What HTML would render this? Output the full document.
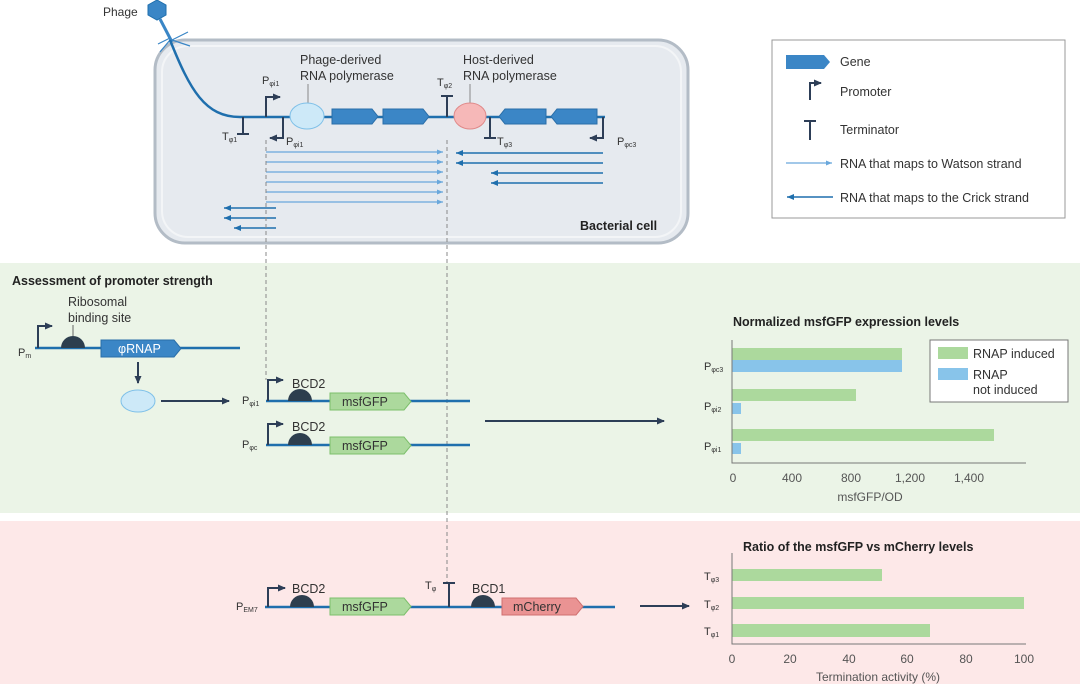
<!DOCTYPE html>
<html><head><meta charset="utf-8"><style>
html,body{margin:0;padding:0;background:#fff}
svg{display:block;font-family:"Liberation Sans",sans-serif}
</style></head><body>
<svg width="1080" height="684" viewBox="0 0 1080 684" xmlns="http://www.w3.org/2000/svg">
<defs>
<marker id="aw" markerUnits="userSpaceOnUse" markerWidth="7" markerHeight="6" refX="6" refY="3" orient="auto"><path d="M0,0.5 L6,3 L0,5.5z" fill="#6aa8dc"/></marker>
<marker id="ac" markerUnits="userSpaceOnUse" markerWidth="8" markerHeight="7" refX="7" refY="3.5" orient="auto"><path d="M0,0.5 L7,3.5 L0,6.5z" fill="#1f6fad"/></marker>
<marker id="ad" markerUnits="userSpaceOnUse" markerWidth="9" markerHeight="8" refX="7" refY="4" orient="auto"><path d="M0,0.5 L8,4 L0,7.5z" fill="#2d3e57"/></marker>
</defs>
<rect x="0" y="263" width="1080" height="250" fill="#ebf4e7"/>
<rect x="0" y="521" width="1080" height="163" fill="#fde8e8"/>
<rect x="155" y="40" width="533" height="203" rx="30" fill="#e6eaef" stroke="#b3bcc6" stroke-width="3"/>
<rect x="162" y="46" width="519" height="191" rx="26" fill="none" stroke="#f3f5f7" stroke-width="2"/>
<text x="103" y="16" font-size="12" fill="#333">Phage</text>
<polygon points="157,0 166,5 166,15 157,20 148,15 148,5" fill="#3a86c6" stroke="#1f6fad"/>
<line x1="160" y1="19" x2="172" y2="42" stroke="#3a86c6" stroke-width="3"/>
<path d="M170,38 l-12,6 M172,40 l16,-8 M170,40 l-10,12 M172,40 l18,6" stroke="#3a86c6" stroke-width="1.2" fill="none"/>
<path d="M170,40 C190,90 205,117 240,117 L605,117" stroke="#1f6fad" stroke-width="2.5" fill="none"/>
<g stroke="#2d3e57" stroke-width="2" fill="none">
<path d="M243,117 V134 M237,134 H249"/>
<path d="M266,117 V97 H280" marker-end="url(#ad)"/>
<path d="M283,117 V138 H270" marker-end="url(#ad)"/>
<path d="M447,117 V96 M441,96 H453"/>
<path d="M490,117 V138 M484,138 H496"/>
<path d="M603,117 V138 H590" marker-end="url(#ad)"/>
</g>
<g font-size="11" fill="#333">
<text x="222" y="140">T<tspan font-size="7" dy="2">φ1</tspan></text>
<text x="262" y="84">P<tspan font-size="7" dy="2">φi1</tspan></text>
<text x="286" y="145">P<tspan font-size="7" dy="2">φi1</tspan></text>
<text x="437" y="86">T<tspan font-size="7" dy="2">φ2</tspan></text>
<text x="497" y="145">T<tspan font-size="7" dy="2">φ3</tspan></text>
<text x="617" y="145">P<tspan font-size="7" dy="2">φc3</tspan></text>
</g>
<g font-size="12.5" fill="#333">
<text x="300" y="64">Phage-derived</text><text x="300" y="80">RNA polymerase</text>
<text x="463" y="64">Host-derived</text><text x="463" y="80">RNA polymerase</text>
</g>
<line x1="308" y1="84" x2="308" y2="103" stroke="#888"/>
<line x1="470" y1="84" x2="470" y2="103" stroke="#888"/>
<ellipse cx="307" cy="116" rx="17" ry="13" fill="#cde9f8" stroke="#7fc0e8"/>
<ellipse cx="470" cy="116" rx="16" ry="13" fill="#f6b8b8" stroke="#e08a8a"/>
<g fill="#3b86c6" stroke="#2a6ea8">
<path d="M332,109 H372 L378,116.5 L372,124 H332z"/>
<path d="M383,109 H423 L429,116.5 L423,124 H383z"/>
<path d="M546,109 H505 L499,116.5 L505,124 H546z"/>
<path d="M597,109 H557 L551,116.5 L557,124 H597z"/>
</g>
<g stroke="#6aa8dc" stroke-width="1.3">
<line x1="266" y1="152" x2="443" y2="152" marker-end="url(#aw)"/>
<line x1="266" y1="162" x2="443" y2="162" marker-end="url(#aw)"/>
<line x1="266" y1="172" x2="443" y2="172" marker-end="url(#aw)"/>
<line x1="266" y1="182" x2="443" y2="182" marker-end="url(#aw)"/>
<line x1="266" y1="192" x2="443" y2="192" marker-end="url(#aw)"/>
<line x1="266" y1="202" x2="443" y2="202" marker-end="url(#aw)"/>
</g>
<g stroke="#1f6fad" stroke-width="1.6">
<line x1="603" y1="153" x2="456" y2="153" marker-end="url(#ac)"/>
<line x1="603" y1="163" x2="456" y2="163" marker-end="url(#ac)"/>
<line x1="603" y1="173" x2="491" y2="173" marker-end="url(#ac)"/>
<line x1="603" y1="183" x2="491" y2="183" marker-end="url(#ac)"/>
<line x1="276" y1="208" x2="224" y2="208" marker-end="url(#ac)"/>
<line x1="276" y1="218" x2="224" y2="218" marker-end="url(#ac)"/>
<line x1="276" y1="228" x2="234" y2="228" marker-end="url(#ac)"/>
</g>
<text x="580" y="230" font-size="12.5" font-weight="bold" fill="#222">Bacterial cell</text>
<line x1="266" y1="140" x2="266" y2="380" stroke="#888" stroke-dasharray="4,3"/>
<line x1="447" y1="140" x2="447" y2="583" stroke="#888" stroke-dasharray="4,3"/>
<rect x="772" y="40" width="293" height="178" fill="#fff" stroke="#999"/>
<path d="M786,55 H824 L830,62 L824,69 H786z" fill="#3b86c6"/>
<path d="M810,100 V83 H821" stroke="#2d3e57" stroke-width="2" fill="none" marker-end="url(#ad)"/>
<path d="M810,140 V121 M804,121 H816" stroke="#2d3e57" stroke-width="2" fill="none"/>
<line x1="786" y1="163" x2="832" y2="163" stroke="#6aa8dc" stroke-width="1.3" marker-end="url(#aw)"/>
<line x1="833" y1="197" x2="787" y2="197" stroke="#1f6fad" stroke-width="1.6" marker-end="url(#ac)"/>
<g font-size="12.5" fill="#333">
<text x="840" y="66">Gene</text><text x="840" y="96">Promoter</text><text x="840" y="134">Terminator</text>
<text x="840" y="168">RNA that maps to Watson strand</text><text x="840" y="202">RNA that maps to the Crick strand</text>
</g>
<text x="12" y="285" font-size="12.5" font-weight="bold" fill="#222">Assessment of promoter strength</text>
<g stroke="#1f6fad" stroke-width="2.5">
<line x1="35" y1="348" x2="240" y2="348"/>
<line x1="266" y1="401" x2="470" y2="401"/>
<line x1="266" y1="445" x2="470" y2="445"/>
<line x1="265" y1="607" x2="615" y2="607"/>
</g>
<g stroke="#2d3e57" stroke-width="2" fill="none">
<path d="M38,348 V326 H52" marker-end="url(#ad)"/>
<path d="M268,401 V380 H283" marker-end="url(#ad)"/>
<path d="M268,445 V424 H283" marker-end="url(#ad)"/>
<path d="M268,607 V588 H285" marker-end="url(#ad)"/>
<path d="M138,362 V383" marker-end="url(#ad)"/>
<path d="M161,401 H229" marker-end="url(#ad)"/>
<path d="M485,421 H664" marker-end="url(#ad)"/>
<path d="M640,606 H689" marker-end="url(#ad)"/>
<path d="M449,607 V583 M443,583 H455"/>
</g>
<line x1="73" y1="325" x2="73" y2="336" stroke="#666"/>
<g fill="#2d3e4e">
<path d="M61,348 A12,12 0 0 1 85,348z"/>
<path d="M288,401 A12,12 0 0 1 312,401z"/>
<path d="M288,445 A12,12 0 0 1 312,445z"/>
<path d="M290,607 A12,12 0 0 1 314,607z"/>
<path d="M471,607 A12,12 0 0 1 495,607z"/>
</g>
<path d="M101,340 H174 L181,348.5 L174,357 H101z" fill="#3b86c6" stroke="#2a6ea8"/>
<text x="118" y="353" font-size="12.5" fill="#fff">φRNAP</text>
<ellipse cx="138" cy="401" rx="17" ry="11" fill="#cde9f8" stroke="#7fc0e8"/>
<g fill="#acd99d" stroke="#7cbf6b">
<path d="M330,393 H404 L411,401.5 L404,410 H330z"/>
<path d="M330,437 H404 L411,445.5 L404,454 H330z"/>
<path d="M330,598 H404 L411,606.5 L404,615 H330z"/>
</g>
<path d="M502,598 H576 L583,606.5 L576,615 H502z" fill="#ea9393" stroke="#d06f6f"/>
<g font-size="12.5" fill="#333">
<text x="68" y="306">Ribosomal</text><text x="68" y="322">binding site</text>
<text x="292" y="388">BCD2</text><text x="292" y="431">BCD2</text>
<text x="292" y="593">BCD2</text><text x="472" y="593">BCD1</text>
<text x="342" y="406">msfGFP</text><text x="342" y="450">msfGFP</text>
<text x="342" y="611">msfGFP</text><text x="513" y="611">mCherry</text>
</g>
<g font-size="11" fill="#333">
<text x="18" y="356">P<tspan font-size="7" dy="2">m</tspan></text>
<text x="242" y="404">P<tspan font-size="7" dy="2">φi1</tspan></text>
<text x="242" y="448">P<tspan font-size="7" dy="2">φc</tspan></text>
<text x="236" y="610">P<tspan font-size="7" dy="2">EM7</tspan></text>
<text x="425" y="589">T<tspan font-size="7" dy="2">φ</tspan></text>
</g>
<text x="733" y="326" font-size="12.5" font-weight="bold" fill="#222">Normalized msfGFP expression levels</text>
<g fill="#acd99d"><rect x="732" y="348" width="170" height="12"/><rect x="732" y="389" width="124" height="12"/><rect x="732" y="429" width="262" height="12"/></g>
<g fill="#88c4ea"><rect x="732" y="360" width="170" height="12"/><rect x="732" y="403" width="9" height="11"/><rect x="732" y="443" width="9" height="11"/></g>
<path d="M732,340 V463 H1026" stroke="#777" fill="none"/>
<g font-size="12" fill="#555" text-anchor="middle">
<text x="733" y="482">0</text><text x="792" y="482">400</text><text x="851" y="482">800</text><text x="910" y="482">1,200</text><text x="969" y="482">1,400</text>
<text x="870" y="501">msfGFP/OD</text>
<text x="878" y="681">Termination activity (%)</text>
<text x="732" y="663">0</text><text x="790" y="663">20</text><text x="849" y="663">40</text><text x="907" y="663">60</text><text x="966" y="663">80</text><text x="1024" y="663">100</text>
</g>
<g font-size="11" fill="#333">
<text x="704" y="370">P<tspan font-size="7" dy="2">φc3</tspan></text>
<text x="704" y="410">P<tspan font-size="7" dy="2">φi2</tspan></text>
<text x="704" y="450">P<tspan font-size="7" dy="2">φi1</tspan></text>
<text x="704" y="580">T<tspan font-size="7" dy="2">φ3</tspan></text>
<text x="704" y="608">T<tspan font-size="7" dy="2">φ2</tspan></text>
<text x="704" y="635">T<tspan font-size="7" dy="2">φ1</tspan></text>
</g>
<rect x="930" y="340" width="138" height="62" fill="#fff" stroke="#777"/>
<rect x="938" y="347" width="30" height="12" fill="#acd99d"/>
<rect x="938" y="368" width="30" height="12" fill="#88c4ea"/>
<g font-size="12.5" fill="#333"><text x="973" y="358">RNAP induced</text><text x="973" y="379">RNAP</text><text x="973" y="394">not induced</text></g>
<text x="743" y="551" font-size="12.5" font-weight="bold" fill="#222">Ratio of the msfGFP vs mCherry levels</text>
<g fill="#acd99d"><rect x="732" y="569" width="150" height="12"/><rect x="732" y="597" width="292" height="12"/><rect x="732" y="624" width="198" height="13"/></g>
<path d="M732,553 V644 H1026" stroke="#777" fill="none"/>
</svg>
</body></html>
